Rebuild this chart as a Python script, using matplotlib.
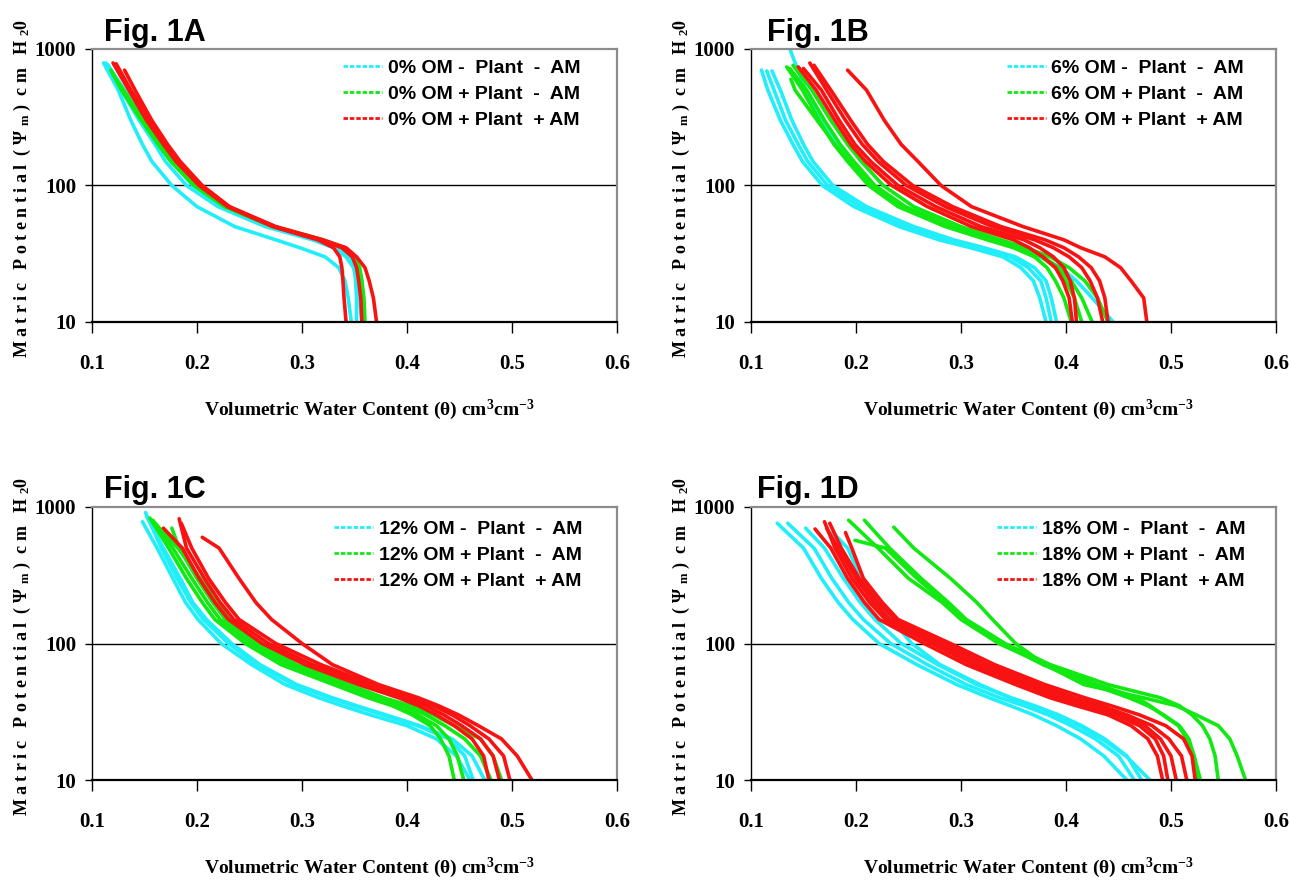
import matplotlib
matplotlib.use("Agg")
import matplotlib.pyplot as plt
from matplotlib.lines import Line2D
from matplotlib.ticker import NullLocator

# ---------------- data ----------------
PSI_LEVELS = [500, 300, 200, 150, 100, 70, 50, 40, 35, 30, 25, 20, 15, 10]
X_TICKS = [0.1, 0.2, 0.3, 0.4, 0.5, 0.6]
X_TICK_LABELS = ["0.1", "0.2", "0.3", "0.4", "0.5", "0.6"]
Y_TICKS = [10, 100, 1000]
Y_TICK_LABELS = ["10", "100", "1000"]

# Panel A (0% OM)
A_CYAN_START = [(0.111, 790), (0.113, 790), (0.115, 770)]
A_CYAN_THETA = [
    [0.125, 0.137, 0.148, 0.157, 0.176, 0.200, 0.236, 0.275, 0.298, 0.322, 0.335, 0.341, 0.344, 0.347],
    [0.128, 0.145, 0.160, 0.170, 0.190, 0.220, 0.265, 0.310, 0.330, 0.342, 0.349, 0.352, 0.355, 0.357],
    [0.131, 0.150, 0.165, 0.176, 0.196, 0.225, 0.270, 0.315, 0.335, 0.345, 0.350, 0.351, 0.352, 0.352],
]
A_GREEN_START = [(0.118, 700), (0.120, 650)]
A_GREEN_THETA = [
    [0.128, 0.147, 0.163, 0.175, 0.197, 0.226, 0.272, 0.318, 0.338, 0.348, 0.354, 0.357, 0.359, 0.360],
    [0.130, 0.149, 0.165, 0.177, 0.199, 0.228, 0.274, 0.320, 0.340, 0.350, 0.355, 0.357, 0.358, 0.358],
]
A_RED_START = [(0.120, 790), (0.131, 700), (0.123, 780)]
A_RED_THETA = [
    [0.135, 0.152, 0.168, 0.180, 0.202, 0.229, 0.272, 0.315, 0.330, 0.336, 0.338, 0.339, 0.340, 0.342],
    [0.141, 0.157, 0.172, 0.184, 0.205, 0.231, 0.275, 0.320, 0.342, 0.352, 0.360, 0.364, 0.368, 0.371],
    [0.137, 0.155, 0.171, 0.182, 0.204, 0.230, 0.274, 0.318, 0.338, 0.348, 0.352, 0.354, 0.356, 0.357],
]

# Panel B (6% OM)
B_CYAN_START = [(0.110, 700), (0.115, 690), (0.120, 690), (0.137, 1000)]
B_CYAN_THETA = [
    [0.116, 0.128, 0.140, 0.149, 0.168, 0.198, 0.241, 0.279, 0.309, 0.340, 0.357, 0.369, 0.375, 0.381],
    [0.122, 0.133, 0.145, 0.154, 0.173, 0.204, 0.248, 0.286, 0.316, 0.347, 0.364, 0.376, 0.381, 0.386],
    [0.128, 0.139, 0.150, 0.159, 0.178, 0.210, 0.255, 0.293, 0.322, 0.352, 0.370, 0.381, 0.386, 0.391],
    [0.152, 0.168, 0.183, 0.195, 0.217, 0.245, 0.290, 0.330, 0.352, 0.375, 0.395, 0.410, 0.425, 0.445],
]
B_GREEN_START = [(0.134, 740), (0.137, 720), (0.138, 600), (0.140, 760)]
B_GREEN_THETA = [
    [0.149, 0.165, 0.179, 0.192, 0.212, 0.240, 0.285, 0.325, 0.350, 0.370, 0.382, 0.390, 0.398, 0.405],
    [0.153, 0.170, 0.185, 0.198, 0.218, 0.247, 0.292, 0.332, 0.357, 0.377, 0.390, 0.400, 0.408, 0.415],
    [0.142, 0.163, 0.180, 0.194, 0.215, 0.244, 0.290, 0.330, 0.356, 0.378, 0.393, 0.405, 0.415, 0.425],
    [0.158, 0.176, 0.192, 0.205, 0.226, 0.255, 0.300, 0.338, 0.362, 0.385, 0.403, 0.418, 0.430, 0.440],
]
B_RED_START = [(0.145, 740), (0.150, 720), (0.156, 790), (0.160, 760), (0.192, 700)]
B_RED_THETA = [
    [0.162, 0.180, 0.195, 0.209, 0.234, 0.268, 0.310, 0.350, 0.365, 0.378, 0.390, 0.397, 0.403, 0.406],
    [0.167, 0.184, 0.199, 0.214, 0.240, 0.276, 0.319, 0.360, 0.375, 0.388, 0.398, 0.404, 0.408, 0.410],
    [0.172, 0.190, 0.206, 0.221, 0.248, 0.285, 0.330, 0.370, 0.388, 0.403, 0.415, 0.423, 0.430, 0.435],
    [0.176, 0.195, 0.211, 0.226, 0.254, 0.292, 0.338, 0.380, 0.398, 0.412, 0.424, 0.432, 0.437, 0.440],
    [0.210, 0.227, 0.243, 0.259, 0.281, 0.310, 0.359, 0.398, 0.414, 0.437, 0.452, 0.462, 0.474, 0.477],
]

# Panel C (12% OM)
C_CYAN_START = [(0.148, 780), (0.151, 910), (0.152, 850)]
C_CYAN_THETA = [
    [0.162, 0.177, 0.189, 0.201, 0.223, 0.252, 0.284, 0.316, 0.338, 0.365, 0.400, 0.428, 0.447, 0.460],
    [0.166, 0.181, 0.194, 0.206, 0.230, 0.257, 0.292, 0.326, 0.349, 0.377, 0.410, 0.440, 0.455, 0.463],
    [0.168, 0.184, 0.196, 0.209, 0.233, 0.260, 0.295, 0.329, 0.352, 0.380, 0.412, 0.443, 0.462, 0.474],
]
C_GREEN_START = [(0.155, 830), (0.158, 800), (0.176, 700), (0.160, 760)]
C_GREEN_THETA = [
    [0.173, 0.190, 0.205, 0.217, 0.246, 0.280, 0.330, 0.363, 0.386, 0.405, 0.422, 0.432, 0.440, 0.445],
    [0.177, 0.195, 0.210, 0.222, 0.251, 0.286, 0.336, 0.368, 0.391, 0.410, 0.428, 0.440, 0.448, 0.454],
    [0.183, 0.200, 0.215, 0.227, 0.256, 0.290, 0.340, 0.373, 0.398, 0.418, 0.436, 0.455, 0.470, 0.480],
    [0.182, 0.203, 0.219, 0.231, 0.260, 0.295, 0.345, 0.378, 0.403, 0.425, 0.445, 0.470, 0.482, 0.490],
]
C_RED_START = [(0.168, 700), (0.183, 820), (0.185, 760), (0.205, 600)]
C_RED_THETA = [
    [0.186, 0.202, 0.217, 0.230, 0.262, 0.303, 0.354, 0.392, 0.411, 0.428, 0.445, 0.462, 0.473, 0.478],
    [0.190, 0.207, 0.222, 0.235, 0.268, 0.310, 0.362, 0.398, 0.418, 0.435, 0.452, 0.470, 0.482, 0.488],
    [0.195, 0.211, 0.227, 0.240, 0.275, 0.318, 0.368, 0.405, 0.425, 0.443, 0.460, 0.478, 0.492, 0.498],
    [0.221, 0.240, 0.256, 0.271, 0.300, 0.329, 0.373, 0.411, 0.430, 0.449, 0.468, 0.490, 0.505, 0.519],
]

# Panel D (18% OM)
D_CYAN_START = [(0.125, 760), (0.135, 760), (0.152, 700), (0.178, 650)]
D_CYAN_THETA = [
    [0.150, 0.167, 0.183, 0.197, 0.222, 0.258, 0.296, 0.327, 0.347, 0.369, 0.391, 0.414, 0.436, 0.458],
    [0.160, 0.177, 0.193, 0.207, 0.233, 0.268, 0.305, 0.337, 0.360, 0.383, 0.405, 0.428, 0.450, 0.465],
    [0.170, 0.188, 0.204, 0.218, 0.243, 0.278, 0.315, 0.348, 0.370, 0.393, 0.415, 0.437, 0.458, 0.472],
    [0.192, 0.205, 0.221, 0.234, 0.253, 0.280, 0.318, 0.347, 0.367, 0.390, 0.412, 0.434, 0.457, 0.480],
]
D_GREEN_START = [(0.193, 800), (0.208, 800), (0.199, 570), (0.236, 711)]
D_GREEN_THETA = [
    [0.221, 0.250, 0.282, 0.300, 0.336, 0.380, 0.430, 0.468, 0.480, 0.492, 0.507, 0.515, 0.522, 0.528],
    [0.232, 0.262, 0.288, 0.305, 0.342, 0.385, 0.440, 0.490, 0.508, 0.520, 0.530, 0.537, 0.542, 0.545],
    [0.228, 0.258, 0.285, 0.302, 0.339, 0.378, 0.425, 0.460, 0.478, 0.493, 0.508, 0.517, 0.522, 0.526],
    [0.255, 0.290, 0.315, 0.330, 0.352, 0.380, 0.417, 0.474, 0.505, 0.524, 0.545, 0.556, 0.563, 0.571],
]
D_RED_START = [(0.161, 690), (0.170, 780), (0.172, 700), (0.175, 760), (0.190, 650)]
D_RED_THETA = [
    [0.176, 0.192, 0.208, 0.222, 0.265, 0.305, 0.352, 0.385, 0.410, 0.440, 0.462, 0.478, 0.487, 0.492],
    [0.180, 0.196, 0.213, 0.228, 0.272, 0.312, 0.360, 0.393, 0.418, 0.447, 0.470, 0.485, 0.493, 0.497],
    [0.183, 0.200, 0.217, 0.232, 0.278, 0.318, 0.366, 0.400, 0.425, 0.452, 0.475, 0.490, 0.500, 0.505],
    [0.186, 0.203, 0.221, 0.237, 0.284, 0.325, 0.373, 0.408, 0.433, 0.458, 0.482, 0.498, 0.510, 0.515],
    [0.196, 0.207, 0.225, 0.240, 0.290, 0.332, 0.380, 0.418, 0.443, 0.470, 0.495, 0.512, 0.520, 0.523],
]

OM_LEVELS = ["0%", "6%", "12%", "18%"]
PANEL_TITLES = ["Fig. 1A", "Fig. 1B", "Fig. 1C", "Fig. 1D"]
TREATMENT_SUFFIX = [" OM -  Plant  -  AM", " OM + Plant  -  AM", " OM + Plant  + AM"]

# ---------------- styling ----------------
CYAN = "#22EEFA"
GREEN = "#12E812"
RED = "#F81212"
SERIF = ["Liberation Serif", "DejaVu Serif"]
SANS = ["Liberation Sans", "DejaVu Sans"]

plt.rcParams["font.family"] = SERIF
plt.rcParams["font.weight"] = "bold"
plt.rcParams["mathtext.fontset"] = "custom"
plt.rcParams["mathtext.rm"] = "Liberation Serif:bold"
plt.rcParams["mathtext.bf"] = "Liberation Serif:bold"
plt.rcParams["mathtext.it"] = "Liberation Serif:bold"

W, H = 1291, 886
fig = plt.figure(figsize=(W / 100, H / 100), dpi=100)

AX_W, AX_H = 525, 273
# (left px, top px, title x px, title baseline px, legend x frac, legend y frac)
LAYOUT = [
    (92, 49, 104, 41, 0.478, 0.962),
    (751, 49, 767, 41, 0.487, 0.962),
    (92, 507, 104, 498, 0.461, 0.951),
    (751, 507, 757, 498, 0.469, 0.951),
]

PANEL_DATA = [
    [(A_CYAN_START, A_CYAN_THETA), (A_GREEN_START, A_GREEN_THETA), (A_RED_START, A_RED_THETA)],
    [(B_CYAN_START, B_CYAN_THETA), (B_GREEN_START, B_GREEN_THETA), (B_RED_START, B_RED_THETA)],
    [(C_CYAN_START, C_CYAN_THETA), (C_GREEN_START, C_GREEN_THETA), (C_RED_START, C_RED_THETA)],
    [(D_CYAN_START, D_CYAN_THETA), (D_GREEN_START, D_GREEN_THETA), (D_RED_START, D_RED_THETA)],
]
COLORS = [CYAN, GREEN, RED]

XLABEL = "Volumetric Water Content (θ) cm$^{3}$cm$^{-3}$"
YLABEL = "M a t r i c   P o t e n t i a l  ( Ψ $_{m}$ )  c m   H $_{2}$0"

for i, (lx, ty, tx, tb, lgx, lgy) in enumerate(LAYOUT):
    ax = fig.add_axes([lx / W, 1 - (ty + AX_H) / H, AX_W / W, AX_H / H])
    ax.set_yscale("log")
    ax.set_xlim(0.1, 0.6)
    ax.set_ylim(10, 1000)

    ax.axhline(100, color="black", lw=1.0, zorder=1)

    for (starts, thetas), col in zip(PANEL_DATA[i], COLORS):
        for (t0, p0), row in zip(starts, thetas):
            xs = [t0] + list(row)
            ys = [p0] + PSI_LEVELS
            ax.plot(xs, ys, color=col, lw=2.6, solid_joinstyle="round",
                    solid_capstyle="round", zorder=2, clip_on=True)

    ax.set_xticks(X_TICKS)
    ax.set_xticklabels(X_TICK_LABELS)
    ax.set_yticks(Y_TICKS)
    ax.set_yticklabels(Y_TICK_LABELS)
    ax.yaxis.set_minor_locator(NullLocator())
    ax.xaxis.set_minor_locator(NullLocator())
    ax.tick_params(axis="x", direction="out", length=8, width=1.0, pad=15,
                   labelsize=15, colors="black")
    ax.tick_params(axis="y", direction="out", length=5, width=1.0, pad=6.5,
                   labelsize=15, colors="black")
    for lab in ax.get_xticklabels() + ax.get_yticklabels():
        lab.set_fontweight("bold")
        lab.set_family(SERIF)

    ax.spines["top"].set_color("#8c8c8c")
    ax.spines["right"].set_color("#8c8c8c")
    ax.spines["top"].set_linewidth(1.6)
    ax.spines["right"].set_linewidth(1.6)
    ax.spines["left"].set_color("black")
    ax.spines["left"].set_linewidth(1.0)
    ax.spines["bottom"].set_color("black")
    ax.spines["bottom"].set_linewidth(1.6)

    ax.text(0.528, -0.341, XLABEL, transform=ax.transAxes, ha="center",
            va="baseline", fontsize=14, fontweight="bold", family=SERIF)
    ax.text(-0.133, 0.49, YLABEL, transform=ax.transAxes, rotation=90,
            ha="center", va="center", fontsize=13, fontweight="bold", family=SERIF)

    fig.text(tx / W, 1 - tb / H, PANEL_TITLES[i], ha="left", va="baseline",
             fontsize=22, fontweight="bold", family=SANS)

    handles = [Line2D([], [], color=c, lw=2.0, linestyle=(0, (1.6, 0.7)))
               for c in COLORS]
    labels = [OM_LEVELS[i] + s for s in TREATMENT_SUFFIX]
    ax.legend(handles, labels, loc="upper left", bbox_to_anchor=(lgx, lgy),
              frameon=False, borderpad=0, borderaxespad=0, handlelength=2.0,
              handletextpad=0.3, labelspacing=0.42,
              prop={"family": SANS, "weight": "bold", "size": 14})

fig.savefig("out.png", dpi=100)
